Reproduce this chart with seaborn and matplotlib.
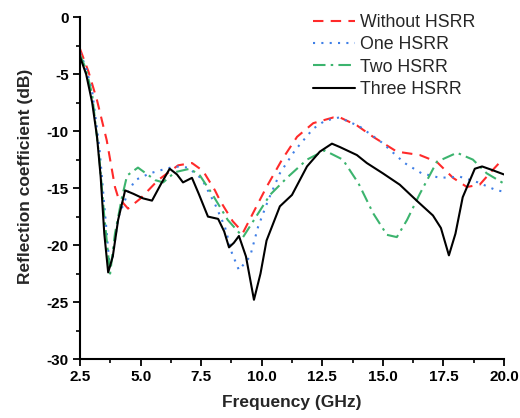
import matplotlib
matplotlib.use("Agg")
import matplotlib.pyplot as plt
import seaborn as sns
from matplotlib.ticker import MultipleLocator

# Data (frequency in GHz, reflection coefficient in dB)
f_without = [2.5, 2.85, 3.2, 3.6, 3.94, 4.07, 4.48, 5.0, 5.72, 6.55, 7.12, 7.58, 8.07, 8.28, 8.8,
             9.23, 9.64, 10.2, 10.84, 11.46, 12.13, 12.96, 13.23, 13.93, 14.6, 15.58, 16.53, 17.23,
             17.9, 18.47, 19.0, 19.5, 19.85]
s_without = [-2.8, -4.8, -7.3, -10.8, -14.9, -15.8, -16.8, -15.9, -14.3, -13.0, -12.8, -13.5, -15.2,
             -16.1, -17.9, -18.9, -17.2, -14.9, -12.5, -10.5, -9.3, -8.8, -8.8, -9.5, -10.5, -11.8,
             -12.1, -12.7, -14.1, -14.9, -14.7, -13.5, -12.7]

f_one = [2.5, 2.75, 3.0, 3.3, 3.5, 3.72, 3.85, 4.07, 4.48, 4.77, 5.39, 5.88, 6.42, 6.96, 7.53, 8.07,
         8.48, 8.77, 9.06, 9.52, 9.85, 10.26, 10.75, 11.37, 12.12, 12.6, 13.2, 14.05, 14.96, 15.9,
         16.6, 17.36, 18.18, 18.93, 19.7, 20.0]
s_one = [-3.1, -4.5, -6.5, -11.5, -16.5, -21.8, -21.0, -17.6, -15.4, -14.3, -13.7, -13.4, -13.1, -13.2,
         -14.2, -16.4, -18.4, -20.7, -22.2, -21.0, -18.4, -16.1, -13.7, -11.7, -9.8, -9.1, -8.8, -9.6,
         -11.0, -12.8, -13.7, -14.1, -14.0, -14.5, -15.2, -15.3]

f_two = [2.5, 2.75, 3.0, 3.3, 3.5, 3.74, 3.94, 4.23, 4.44, 4.89, 5.6, 5.93, 6.42, 7.04, 7.45, 7.95,
         8.6, 9.23, 9.8, 10.34, 11.04, 11.87, 12.6, 13.35, 14.0, 14.6, 15.17, 15.58, 16.0, 16.53,
         17.23, 18.06, 18.72, 19.29, 20.0]
s_two = [-3.3, -4.6, -6.8, -12.5, -17.5, -22.5, -19.0, -15.8, -13.9, -13.2, -14.3, -14.5, -13.6, -13.3,
         -13.9, -15.5, -17.8, -19.3, -17.4, -15.6, -14.1, -12.5, -11.7, -12.5, -14.6, -17.2, -19.1,
         -19.3, -17.8, -15.5, -12.7, -11.9, -12.5, -13.7, -14.6]

f_three = [2.5, 2.75, 3.0, 3.2, 3.35, 3.5, 3.66, 3.85, 4.07, 4.36, 4.7, 5.1, 5.47, 5.85, 6.2, 6.5,
           6.75, 7.12, 7.4, 7.78, 8.2, 8.45, 8.65, 8.85, 9.06, 9.35, 9.68, 9.95, 10.2, 10.75, 11.25,
           11.87, 12.4, 12.9, 13.23, 13.93, 14.34, 15.0, 15.7, 16.45, 17.07, 17.4, 17.73, 18.0, 18.3,
           18.8, 19.1, 19.5, 20.0]
s_three = [-3.5, -5.0, -7.5, -10.5, -14.0, -19.0, -22.4, -21.0, -17.8, -15.2, -15.5, -15.9, -16.1,
           -14.6, -13.3, -13.8, -14.5, -14.1, -15.5, -17.5, -17.7, -18.8, -20.2, -19.8, -19.2, -21.0,
           -24.8, -22.5, -19.6, -16.6, -15.6, -13.1, -11.8, -11.1, -11.4, -12.1, -12.8, -13.7, -14.7,
           -16.2, -17.4, -18.5, -20.9, -19.0, -15.8, -13.3, -13.1, -13.4, -13.8]

labels = ["Without HSRR", "One HSRR", "Two HSRR", "Three HSRR"]
x_ticks = [2.5, 5.0, 7.5, 10.0, 12.5, 15.0, 17.5, 20.0]
x_ticklabels = ["2.5", "5.0", "7.5", "10.0", "12.5", "15.0", "17.5", "20.0"]
y_ticks = [0, -5, -10, -15, -20, -25, -30]
y_ticklabels = ["0", "-5", "-10", "-15", "-20", "-25", "-30"]

sns.set_theme(style="ticks")
plt.rcParams['font.family'] = ['Liberation Sans', 'DejaVu Sans']

fig = plt.figure(figsize=(5.2, 4.18), dpi=100)
ax = fig.add_axes([0.154, 0.141, 0.815, 0.818])

series = [
    (f_without, s_without, "#ff2a2a", (0, (5, 3.5))),
    (f_one, s_one, "#3f7fe6", (0, (1, 3))),
    (f_two, s_two, "#3cb46e", (0, (6, 2.5, 1.2, 2.5))),
    (f_three, s_three, "#000000", "-"),
]
for (fx, sy, col, ls), lab in zip(series, labels):
    sns.lineplot(x=fx, y=sy, ax=ax, color=col, linestyle=ls, linewidth=1.5,
                 label=lab, sort=False)

ax.set_xlim(2.5, 20.0)
ax.set_ylim(-30, 0)
ax.xaxis.set_minor_locator(MultipleLocator(1.25))
ax.yaxis.set_minor_locator(MultipleLocator(2.5))
ax.set_xticks(x_ticks)
ax.set_xticklabels(x_ticklabels)
ax.set_yticks(y_ticks)
ax.set_yticklabels(y_ticklabels)

for sp in ["top", "right"]:
    ax.spines[sp].set_visible(False)
for sp in ["left", "bottom"]:
    ax.spines[sp].set_linewidth(1.5)
    ax.spines[sp].set_color("black")

ax.tick_params(axis="both", which="major", direction="out", length=5, width=1.3,
               labelsize=11, colors="black", pad=3)
ax.tick_params(axis="both", which="minor", direction="out", length=3, width=1.2, colors="black")
for t in ax.get_xticklabels() + ax.get_yticklabels():
    t.set_fontweight("bold")

ax.set_xlabel("Frequency (GHz)", fontsize=12.5, fontweight="bold", labelpad=8)
ax.set_ylabel("Reflection coefficient (dB)", fontsize=12.5, fontweight="bold")
ax.yaxis.set_label_coords(-0.11, 0.535)

leg = ax.legend(loc="upper left", bbox_to_anchor=(313 / 520, 1 - 14 / 418),
                bbox_transform=fig.transFigure, frameon=False, fontsize=12.8,
                handlelength=2.35, handletextpad=0.3, labelspacing=0.3,
                borderaxespad=0, borderpad=0)

fig.savefig("out.png", dpi=100)
